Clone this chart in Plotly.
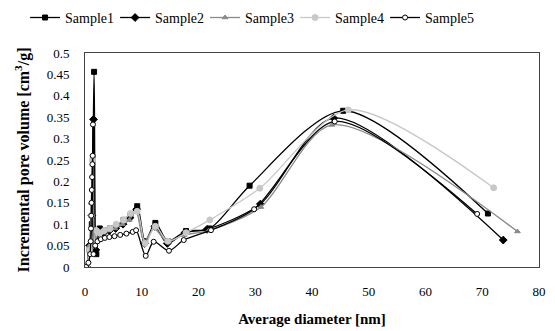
import plotly.graph_objects as go

# ---- data ----
s1_x = [0.3, 0.8, 1.2, 1.6, 2.0, 2.6, 3.4, 4.4, 5.5, 6.8, 8.0, 9.2, 10.6, 12.4, 14.6, 17.8, 22.0, 29.0, 45.5, 71.0]
s1_y = [0.0, 0.04, 0.10, 0.456, 0.03, 0.09, 0.085, 0.09, 0.095, 0.11, 0.12, 0.142, 0.06, 0.103, 0.06, 0.084, 0.09, 0.19, 0.365, 0.125]

s2_x = [0.3, 0.8, 1.2, 1.5, 1.9, 2.5, 3.3, 4.3, 5.4, 6.7, 7.9, 9.1, 10.5, 12.3, 14.5, 17.6, 21.5, 30.9, 43.8, 73.7]
s2_y = [0.0, 0.05, 0.12, 0.345, 0.04, 0.085, 0.08, 0.085, 0.09, 0.10, 0.115, 0.135, 0.055, 0.095, 0.055, 0.08, 0.088, 0.147, 0.348, 0.063]

s3_x = [0.3, 0.8, 1.1, 1.4, 1.8, 2.4, 3.2, 4.2, 5.3, 6.6, 7.8, 9.0, 10.4, 12.2, 14.4, 17.5, 21.8, 31.0, 43.5, 76.2]
s3_y = [0.0, 0.05, 0.15, 0.26, 0.06, 0.08, 0.08, 0.085, 0.09, 0.10, 0.11, 0.13, 0.06, 0.09, 0.06, 0.075, 0.085, 0.14, 0.332, 0.083]

s4_x = [0.3, 0.8, 1.1, 1.3, 1.6, 2.0, 2.6, 3.4, 4.4, 5.5, 6.8, 8.0, 9.2, 10.6, 12.4, 14.6, 17.8, 22.0, 30.8, 46.4, 72.0]
s4_y = [0.0, 0.04, 0.12, 0.25, 0.05, 0.085, 0.08, 0.085, 0.09, 0.10, 0.11, 0.125, 0.13, 0.055, 0.095, 0.06, 0.08, 0.11, 0.184, 0.367, 0.185]

s5_x = [0.2, 0.6, 0.9, 1.0, 1.05, 1.1, 1.15, 1.2, 1.25, 1.3, 1.35, 1.4, 1.5, 1.8, 2.2, 2.8, 3.5, 4.3, 5.2, 6.2, 7.3, 8.4, 9.0,
        10.7, 12.1, 14.8, 17.4, 22.2, 29.8, 44.0, 69.1]
s5_y = [0.0, 0.01, 0.03, 0.06, 0.09, 0.12, 0.15, 0.18, 0.21, 0.24, 0.26, 0.333, 0.03, 0.05, 0.06, 0.065, 0.068, 0.07, 0.072, 0.075,
        0.078, 0.082, 0.086, 0.026, 0.059, 0.038, 0.063, 0.086, 0.135, 0.34, 0.124]

names = ["Sample1", "Sample2", "Sample3", "Sample4", "Sample5"]
xs = [s1_x, s2_x, s3_x, s4_x, s5_x]
ys = [s1_y, s2_y, s3_y, s4_y, s5_y]

styles = [
    dict(color="#000000", symbol="square", fill="#000000", size=5),
    dict(color="#000000", symbol="diamond", fill="#000000", size=6),
    dict(color="#8a8a8a", symbol="triangle-up", fill="#8a8a8a", size=5),
    dict(color="#c8c8c8", symbol="circle", fill="#c8c8c8", size=6),
    dict(color="#000000", symbol="circle", fill="#ffffff", size=5),
]

FONT = "Liberation Serif"

fig = go.Figure()
for n, x, y, st in zip(names, xs, ys, styles):
    fig.add_trace(go.Scatter(
        x=x, y=y, name=n, mode="lines+markers",
        line=dict(color=st["color"], width=1.3, shape="spline", smoothing=0.8),
        marker=dict(symbol=st["symbol"], size=st["size"], color=st["fill"],
                    line=dict(color=st["color"], width=1)),
    ))

# the page body adds an 8px margin, so the figure is 8px smaller than the window
fig.update_layout(
    width=547, height=323,
    margin=dict(l=77, r=16, t=45, b=64, autoexpand=False),
    paper_bgcolor="white", plot_bgcolor="white",
    font=dict(family=FONT, size=13, color="black"),
    showlegend=True,
    legend=dict(orientation="h", x=-0.132, xanchor="left", y=1.164, yanchor="middle",
                font=dict(size=14, family=FONT), itemwidth=30,
                entrywidth=45, entrywidthmode="pixels",
                bgcolor="rgba(0,0,0,0)"),
    xaxis=dict(range=[0, 80], dtick=10, showgrid=False, zeroline=False, automargin=False,
               showline=True, linecolor="#444444", linewidth=1, mirror=True,
               ticks="", tickfont=dict(size=13, family=FONT), ticklabelstandoff=12,
               title=dict(text="<b>Average diameter [nm]</b>", font=dict(size=15, family=FONT), standoff=15)),
    yaxis=dict(range=[0, 0.5], dtick=0.05, showgrid=False, zeroline=False, automargin=False,
               showline=True, linecolor="#444444", linewidth=1, mirror=True,
               ticks="", tickfont=dict(size=13, family=FONT), ticklabelstandoff=12,
               title=dict(text="<b>Incremental pore volume [cm<sup>3</sup>/g]</b>", font=dict(size=16, family=FONT), standoff=13)),
)

fig.write_html("out.html")
